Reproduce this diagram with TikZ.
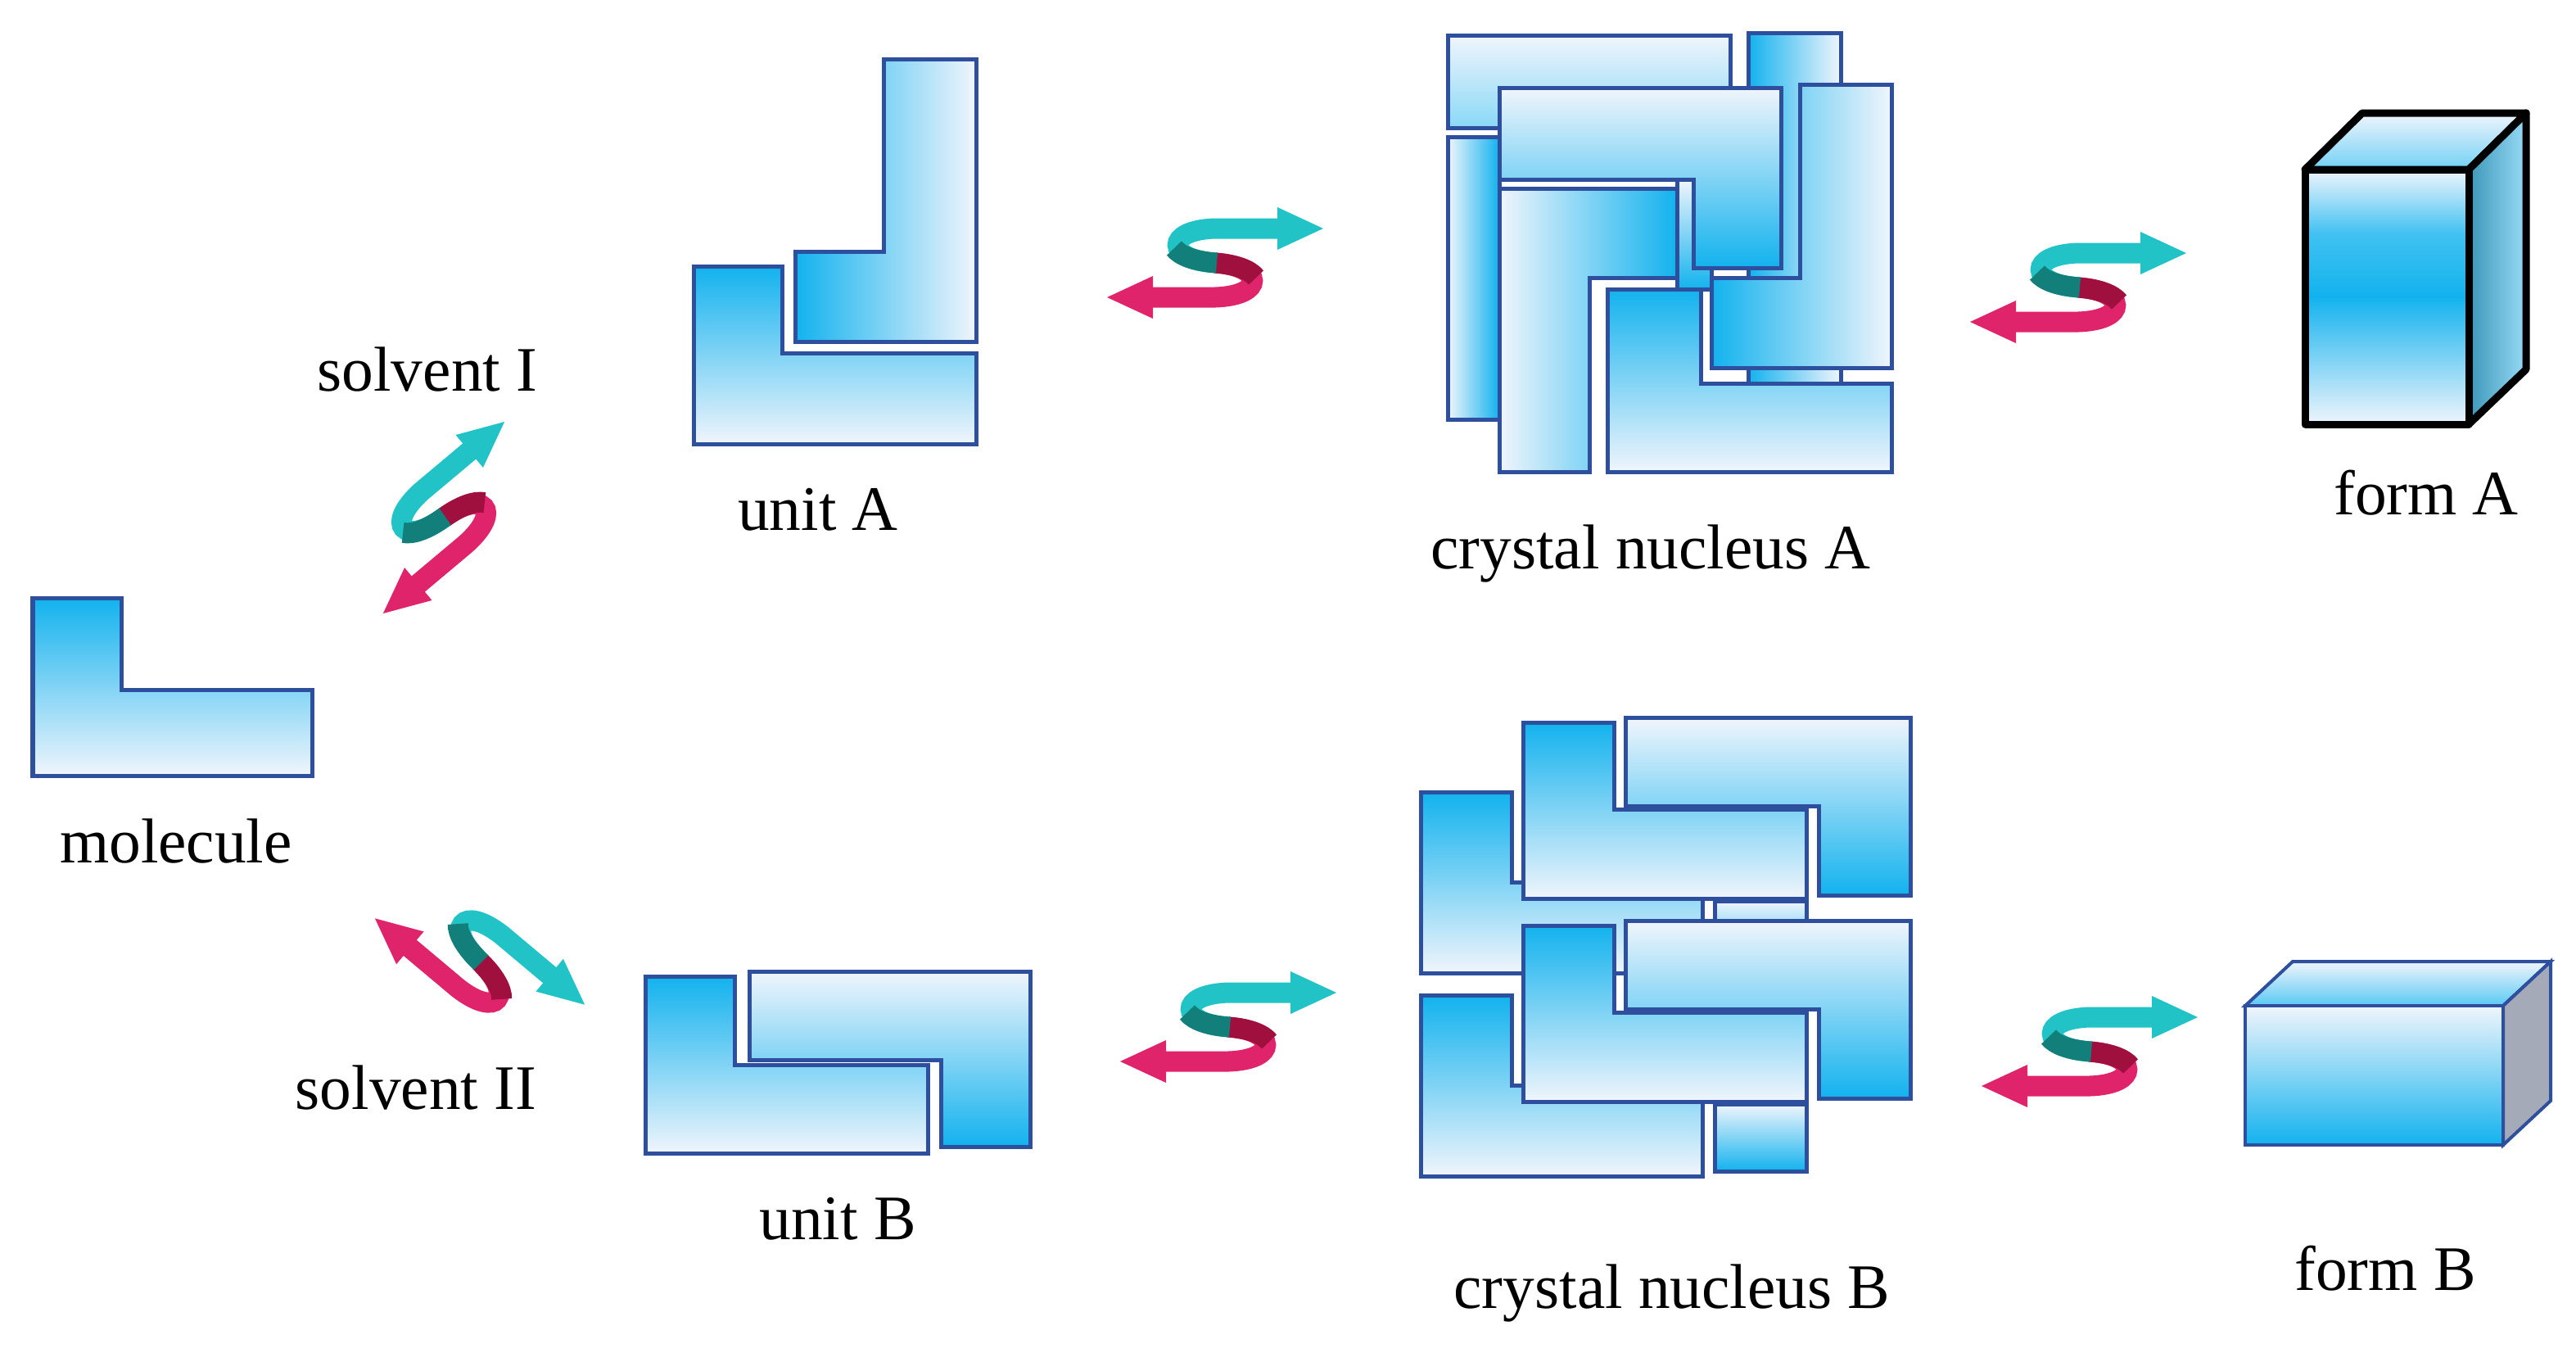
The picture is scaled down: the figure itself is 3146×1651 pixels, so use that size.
\documentclass[tikz,border=0pt]{standalone}
\usepackage{fontspec}
\setmainfont{Liberation Serif}
\definecolor{edge}{HTML}{2E4E9E}
\definecolor{deep}{HTML}{12B2EE}
\definecolor{pale}{HTML}{F0F5FC}
\definecolor{tealc}{HTML}{22C3C6}
\definecolor{darkteal}{HTML}{127F7A}
\definecolor{pinkc}{HTML}{E0246C}
\definecolor{darkpink}{HTML}{A0103E}
\tikzset{
  blk/.style={draw=edge,line width=0.05cm,line join=miter},
  dtop/.style={blk,top color=deep,bottom color=pale},
  dbot/.style={blk,top color=pale,bottom color=deep},
  dleft/.style={blk,left color=deep,right color=pale},
  dright/.style={blk,left color=pale,right color=deep},
  lab/.style={font=\fontsize{22}{26}\selectfont,inner sep=0pt},
  sarrow/.pic={
    \draw[pinkc,line width=0.25cm] (0,0) .. controls (60,4) and (62,40) .. (0,42) -- (-80,42);
    \fill[pinkc] (-76,16) -- (-132,42) -- (-76,68) -- cycle;
    \draw[darkpink,line width=0.25cm] (0,0) .. controls (25,2) and (42,8) .. (50,18);
    \draw[tealc,line width=0.25cm] (0,0) .. controls (-60,-4) and (-62,-40) .. (0,-42) -- (80,-42);
    \fill[tealc] (76,-68) -- (132,-42) -- (76,-16) -- cycle;
    \draw[darkteal,line width=0.25cm] (2,0) .. controls (-25,-2) and (-42,-8) .. (-50,-18);
  }
}
\begin{document}
\begin{tikzpicture}[x=0.01cm,y=-0.01cm]
\useasboundingbox (0,0) rectangle (3146,1651);
% molecule
\path[dtop] (40,730) -- (148,730) -- (148,842) -- (381,842) -- (381,947) -- (40,947) -- cycle;
% unit A
\path[dleft] (1079,72) -- (1192,72) -- (1192,417) -- (971,417) -- (971,307) -- (1079,307) -- cycle;
\path[dtop] (847,325) -- (955,325) -- (955,431) -- (1192,431) -- (1192,542) -- (847,542) -- cycle;
% unit B
\path[dtop] (788,1192) -- (897,1192) -- (897,1300) -- (1133,1300) -- (1133,1408) -- (788,1408) -- cycle;
\path[dbot] (915,1186) -- (1258,1186) -- (1258,1400) -- (1149,1400) -- (1149,1294) -- (915,1294) -- cycle;
% crystal nucleus A
\path[blk,top color=pale,bottom color=deep!50] (1768,43) rectangle (2113,156);
\path[dright] (1768,167) rectangle (1831,512);
\path[dleft] (2135,40) rectangle (2248,468);
\path[dbot] (2048,219) rectangle (2090,353);
\path[dbot] (1831,107) -- (2175,107) -- (2175,327) -- (2068,327) -- (2068,219) -- (1831,219) -- cycle;
\path[dleft] (2198,103) -- (2310,103) -- (2310,449) -- (2090,449) -- (2090,339) -- (2198,339) -- cycle;
\path[dright] (1831,230) -- (2048,230) -- (2048,339) -- (1941,339) -- (1941,576) -- (1831,576) -- cycle;
\path[dtop] (1963,353) -- (2077,353) -- (2077,468) -- (2310,468) -- (2310,576) -- (1963,576) -- cycle;
% crystal nucleus B
\foreach \d in {0,248}{
  \path[dtop] (1735,967+\d) -- (1846,967+\d) -- (1846,1077+\d) -- (2079,1077+\d) -- (2079,1188+\d) -- (1735,1188+\d) -- cycle;
  \path[dbot] (2094,1100+\d) rectangle (2206,1182+\d);
  \path[dbot] (1985,876+\d) -- (2333,876+\d) -- (2333,1093+\d) -- (2221,1093+\d) -- (2221,984+\d) -- (1985,984+\d) -- cycle;
  \path[dtop] (1860,882+\d) -- (1971,882+\d) -- (1971,988+\d) -- (2206,988+\d) -- (2206,1097+\d) -- (1860,1097+\d) -- cycle;
}
% form A
\path[draw=black,line width=0.09cm,line join=round,top color=pale,bottom color=deep!60]
  (2815,207) -- (2885,138) -- (3085,138) -- (3015,207) -- cycle;
\path[draw=black,line width=0.09cm,line join=round,left color=deep!70!black!80,right color=deep!40!pale]
  (3015,207) -- (3085,138) -- (3085,451) -- (3015,518) -- cycle;
\shade[top color=pale,bottom color=deep,middle color=deep!80] (2815,207) rectangle (3015,363);
\shade[top color=deep,bottom color=pale] (2815,362) rectangle (3015,518);
\draw[black,line width=0.09cm,line join=round] (2815,207) rectangle (3015,518);
% form B
\path[blk,line width=0.04cm,top color=pale,bottom color=deep!70] (2742,1228) -- (2800,1174) -- (3115,1174) -- (3057,1228) -- cycle;
\path[blk,line width=0.04cm,fill=edge!30!gray!60] (3057,1228) -- (3115,1174) -- (3115,1344) -- (3057,1398) -- cycle;
\path[blk,line width=0.04cm,top color=pale,bottom color=deep] (2742,1228) rectangle (3057,1398);
% arrows
\pic at (1484,321) {sarrow};
\pic at (2538,351) {sarrow};
\pic at (1500,1254) {sarrow};
\pic at (2552,1284) {sarrow};
\pic[rotate=40] at (542,632) {sarrow};
\pic[rotate=-40] at (586,1174) {sarrow};
% labels
\node[lab] (tsI) at (522,451) {solvent I};
\node[lab] (tuA) at (999,622) {unit A};
\node[lab] (tcA) at (2016,676) {crystal nucleus A};
\node[lab] (tfA) at (2963,602) {form A};
\node[lab] (tmol) at (215,1027) {molecule};
\node[lab] (tsII) at (508,1328) {solvent II};
\node[lab] (tuB) at (1023,1488) {unit B};
\node[lab] (tcB) at (2042,1579) {crystal nucleus B};
\node[lab] (tfB) at (2913,1549) {form B};
\end{tikzpicture}
\end{document}
